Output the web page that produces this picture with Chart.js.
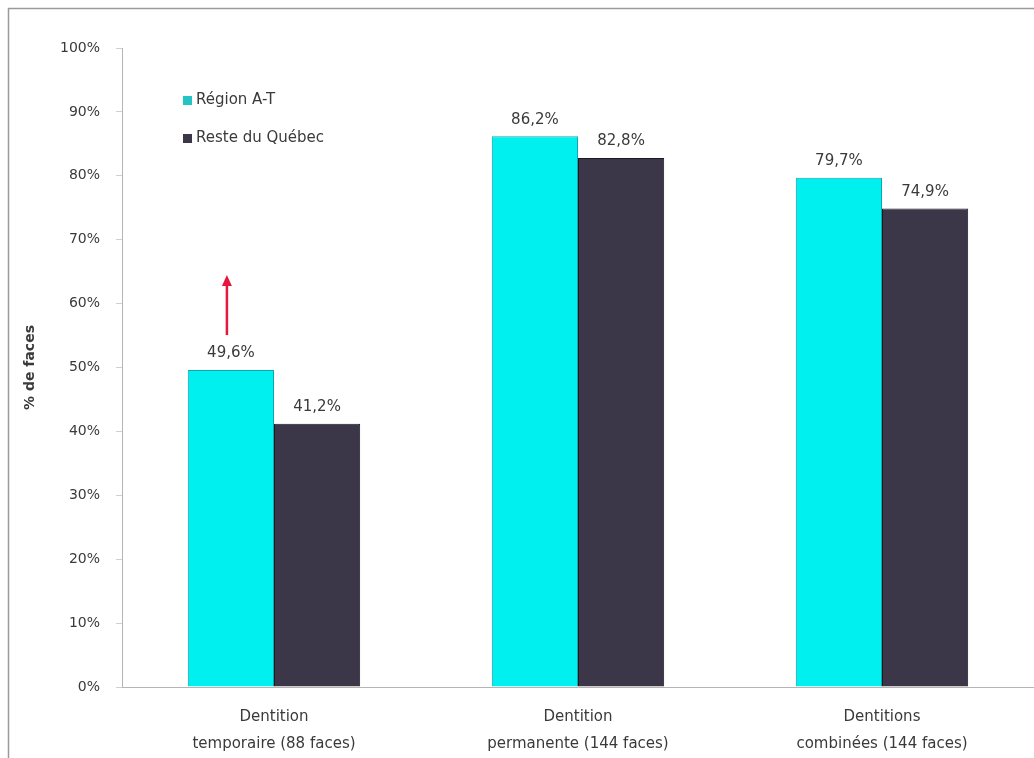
<!DOCTYPE html>
<html>
<head>
<meta charset="utf-8">
<script src="https://cdn.jsdelivr.net/npm/chart.js@4.4.0/dist/chart.umd.min.js"></script>
<style>
  html, body { margin: 0; padding: 0; background: #fff; }
  #wrap { position: relative; width: 1034px; height: 758px; }
</style>
</head>
<body>
<div id="wrap"><canvas id="c" width="1034" height="758"></canvas></div>
<script>
const categories = [["Dentition", "temporaire (88 faces)"], ["Dentition", "permanente (144 faces)"], ["Dentitions", "combinées (144 faces)"]];
const seriesNames = ["Région A-T", "Reste du Québec"];
const regionAT = [49.6, 86.2, 79.7];
const resteQuebec = [41.2, 82.8, 74.9];
const yTicks = [0, 10, 20, 30, 40, 50, 60, 70, 80, 90, 100];
const yTitle = "% de faces";

const FONT = "'DejaVu Sans', 'Open Sans', sans-serif";
const TEXT = "#3a3a3a";

function fmt(v) { return v.toFixed(1).replace('.', ',') + '%'; }

const framePlugin = {
  id: 'frame',
  beforeDraw(chart) {
    const ctx = chart.ctx;
    ctx.save();
    ctx.fillStyle = '#fff';
    ctx.fillRect(0, 0, chart.width, chart.height);
    ctx.strokeStyle = '#9a9a9a';
    ctx.lineWidth = 1.5;
    ctx.beginPath();
    ctx.moveTo(8.5, chart.height);
    ctx.lineTo(8.5, 8.5);
    ctx.lineTo(chart.width, 8.5);
    ctx.stroke();
    ctx.restore();
  }
};

const labelsPlugin = {
  id: 'valueLabels',
  afterDatasetsDraw(chart) {
    const ctx = chart.ctx;
    ctx.save();
    ctx.font = "15px " + FONT;
    ctx.fillStyle = TEXT;
    ctx.textAlign = 'center';
    ctx.textBaseline = 'bottom';
    chart.data.datasets.forEach((ds, i) => {
      const meta = chart.getDatasetMeta(i);
      meta.data.forEach((bar, j) => {
        ctx.fillText(fmt(ds.data[j]), bar.x, bar.y - 9);
      });
    });
    // red arrow above first bar of first series
    const b = chart.getDatasetMeta(0).data[0];
    const x = b.x - 4;
    const tail = b.y - 35, tip = b.y - 95;
    ctx.strokeStyle = '#e5173f';
    ctx.fillStyle = '#e5173f';
    ctx.lineWidth = 2.5;
    ctx.beginPath();
    ctx.moveTo(x, tail);
    ctx.lineTo(x, tip + 8);
    ctx.stroke();
    ctx.beginPath();
    ctx.moveTo(x, tip);
    ctx.lineTo(x - 5, tip + 11);
    ctx.lineTo(x + 5, tip + 11);
    ctx.closePath();
    ctx.fill();
    ctx.restore();
  }
};

const legendPlugin = {
  id: 'innerLegend',
  afterDraw(chart) {
    const ctx = chart.ctx;
    const area = chart.chartArea;
    ctx.save();
    ctx.font = "15px " + FONT;
    ctx.textBaseline = 'middle';
    ctx.textAlign = 'left';
    chart.data.datasets.forEach((ds, i) => {
      const x = area.left + 61;
      const y = area.top + 52 + i * 38;
      ctx.fillStyle = i === 0 ? '#22c4c4' : ds.backgroundColor;
      ctx.fillRect(x, y - 4, 9, 9);
      ctx.fillStyle = TEXT;
      ctx.fillText(ds.label, x + 13, y);
    });
    ctx.restore();
  }
};

new Chart(document.getElementById('c'), {
  type: 'bar',
  data: {
    labels: categories,
    datasets: [
      { label: seriesNames[0], data: regionAT, backgroundColor: '#00f0f0', borderColor: '#10a8b0', borderWidth: 1, borderSkipped: 'bottom' },
      { label: seriesNames[1], data: resteQuebec, backgroundColor: '#3b3748', borderColor: '#1a1822', borderWidth: 1, borderSkipped: 'bottom' }
    ]
  },
  options: {
    responsive: false,
    animation: false,
    devicePixelRatio: 1,
    layout: { padding: { left: 0, right: 0, top: 48, bottom: 0 } },
    datasets: { bar: { categoryPercentage: 0.567, barPercentage: 1.0 } },
    plugins: {
      legend: { display: false },
      tooltip: { enabled: false }
    },
    scales: {
      x: {
        grid: { display: false, drawTicks: false },
        border: { display: true, color: '#b5b5b5', width: 1 },
        ticks: { color: TEXT, font: { family: FONT, size: 15, lineHeight: 1.8 }, padding: 17, maxRotation: 0 },
        afterFit(scale) { scale.height = 71; }
      },
      y: {
        min: 0, max: 100,
        afterBuildTicks(axis) { axis.ticks = yTicks.map(v => ({ value: v })); },
        grid: { drawOnChartArea: false, drawTicks: true, tickLength: 6, color: '#d0d0d0' },
        border: { display: true, color: '#b5b5b5', width: 1 },
        ticks: { color: TEXT, font: { family: FONT, size: 14 }, padding: 16, callback: v => v + '%' },
        title: { display: true, text: yTitle, color: TEXT, font: { family: FONT, size: 14, weight: 'bold' }, padding: { top: 22, bottom: 0 } },
        afterFit(scale) { scale.width = 122; }
      }
    }
  },
  plugins: [framePlugin, labelsPlugin, legendPlugin]
});
</script>
</body>
</html>
